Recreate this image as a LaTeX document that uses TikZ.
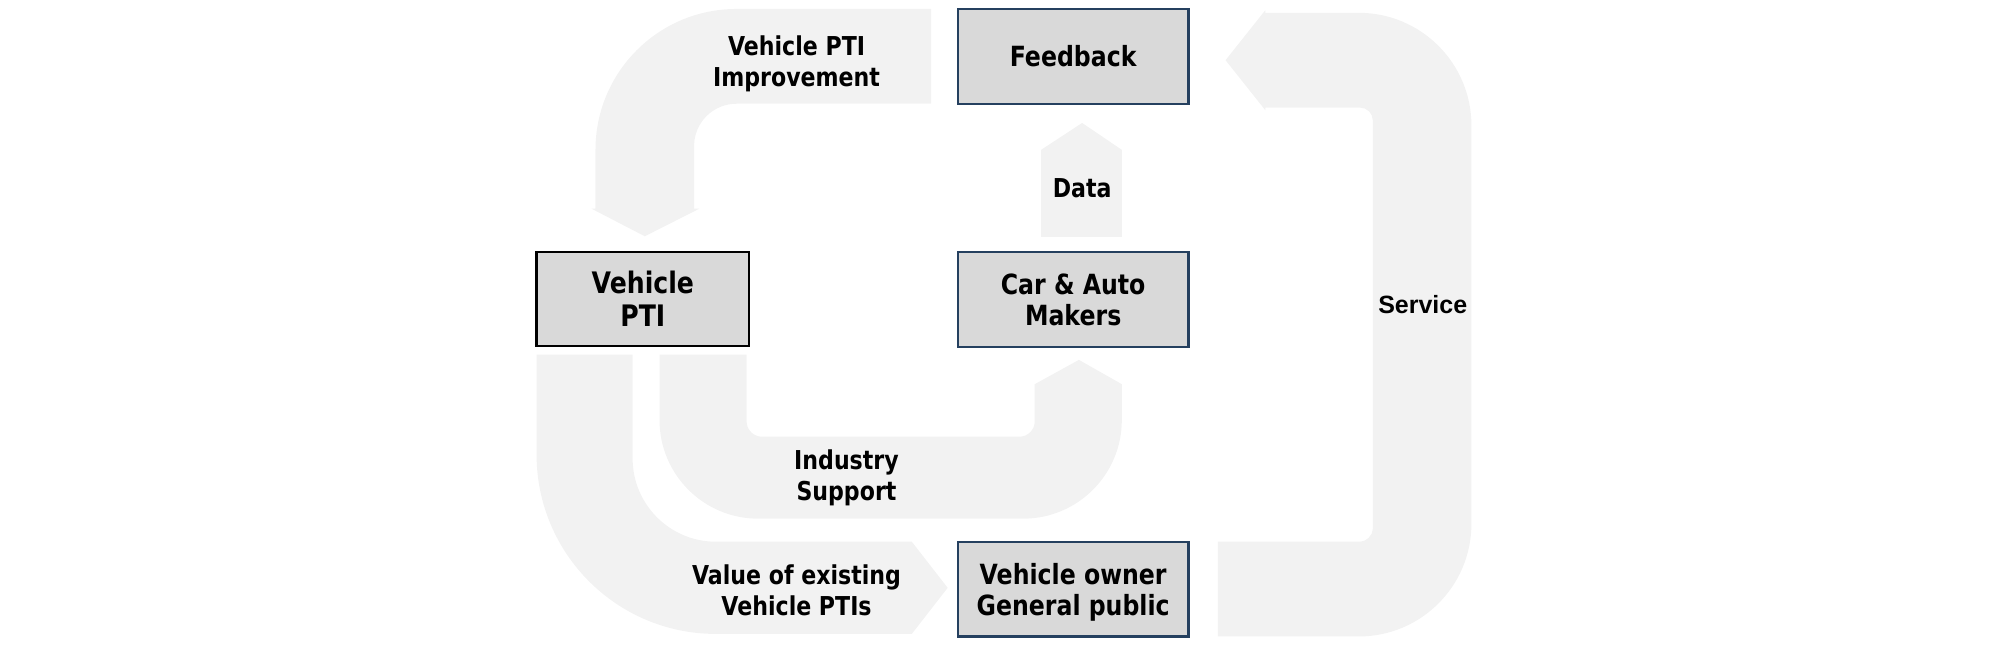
\documentclass[tikz,border=0pt]{standalone}
\usepackage{fontspec}
\setmainfont[FakeStretch=0.85]{DejaVu Sans}
\newfontfamily\servfont{Liberation Sans}
\definecolor{bandgray}{HTML}{F2F2F2}
\definecolor{boxgray}{HTML}{D9D9D9}
\definecolor{navy}{HTML}{25405F}
\newcommand\myboxfont{\fontsize{13.9}{15.4}\selectfont\bfseries}
\newcommand\mylabfont{\fontsize{13}{15.4}\selectfont\bfseries}
\begin{document}
\begin{tikzpicture}[x=0.6403pt,y=-0.6403pt,
  band/.style={fill=bandgray, draw=none},
  box/.style={draw=navy, line width=1.1pt, fill=boxgray,
    minimum width=180*0.6403pt, minimum height=74*0.6403pt,
    inner sep=0pt, align=center, font=\myboxfont},
  lab/.style={inner sep=0pt, align=center, font=\mylabfont}]
\useasboundingbox (0,0) rectangle (1568,505);

% Vehicle PTI Improvement arrow
\fill[band] (727,7) -- (575,7) .. controls (514.25,7) and (465,56.25) .. (465,117)
  -- (465,163) -- (462,163) -- (503.5,184.5) -- (546,163) -- (542,163)
  -- (542,114) .. controls (542,95.8) and (556.8,81) .. (575,81) -- (727,81) -- cycle;

% Data arrow
\fill[band] (813,185) -- (813,117) -- (845,96) -- (876,117) -- (876,185) -- cycle;

% Service arrow
\fill[band] (951,497) -- (1061,497) .. controls (1109.6,497) and (1149,457.6) .. (1149,409)
  -- (1149,98) .. controls (1149,49.4) and (1109.6,10) .. (1061,10)
  -- (988,10) -- (988,8) -- (957,47) -- (988,86) -- (988,84)
  -- (1062,84) .. controls (1067.5,84) and (1072,88.5) .. (1072,94)
  -- (1072,413) .. controls (1072,418.5) and (1066.5,423) .. (1062,423)
  -- (951,423) -- cycle;

% Industry Support arrow
\fill[band] (515,277) -- (515,328) .. controls (515,370.5) and (549.5,405) .. (592,405)
  -- (799,405) .. controls (841.5,405) and (876,370.5) .. (876,328)
  -- (876,300) -- (842.5,281) -- (808,300)
  -- (808,329) .. controls (808,335.6) and (802.6,341) .. (796,341)
  -- (595,341) .. controls (588.4,341) and (583,335.6) .. (583,329)
  -- (583,277) -- cycle;

% Value of existing Vehicle PTIs arrow
\fill[band] (419,277) -- (419,355) .. controls (419,432.3) and (481.7,495) .. (559,495)
  -- (712,495) -- (740,459) -- (712,423) -- (559,423)
  .. controls (523.1,423) and (494,393.9) .. (494,358) -- (494,277) -- cycle;

% Boxes
\node[box] (feedback) at (838,44) {Feedback};
\node[box, draw=black, minimum width=166*0.6403pt, minimum height=73*0.6403pt,
  font=\fontsize{14.8}{16.6}\selectfont\bfseries] (pti) at (502,233.5) {Vehicle\\PTI};
\node[box] (makers) at (838,234) {Car \& Auto\\Makers};
\node[box, text depth=0pt] (owner) at (838,460) {Vehicle owner\\General public};

% Labels
\node[lab] (limp) at (622,50) {Vehicle PTI\\Improvement};
\node[lab] (ldata) at (845,147) {Data};
\node[lab, font=\servfont\fontsize{12.5}{14}\selectfont\bfseries] (lserv) at (1111,238) {Service};
\node[lab] (lind) at (661,373) {Industry\\Support};
\node[lab] (lval) at (622,461) {Value of existing\\Vehicle PTIs};
\end{tikzpicture}
\end{document}
